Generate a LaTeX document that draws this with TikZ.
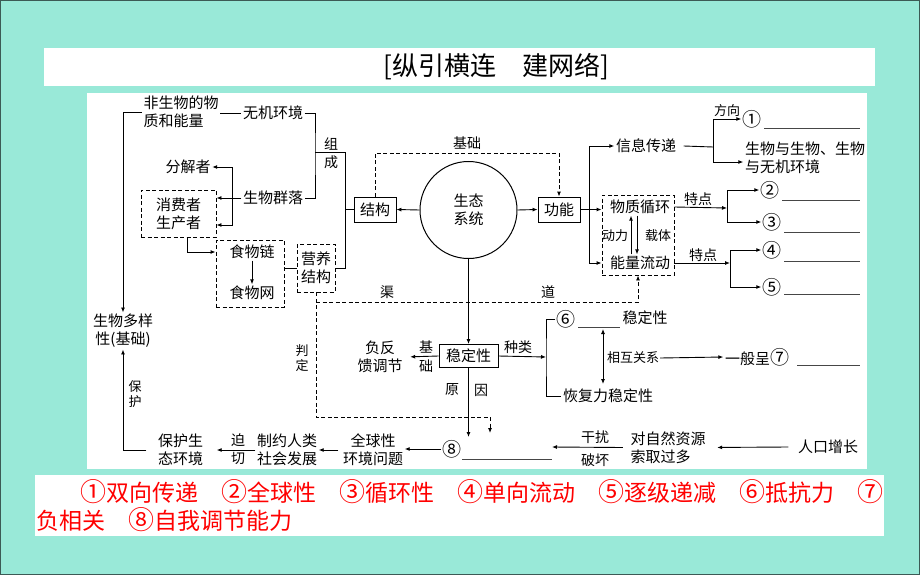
\documentclass[tikz,border=0pt]{standalone}
\usepackage{fontspec}
\setmainfont{Noto Sans CJK SC}
\usetikzlibrary{arrows.meta,calc}
\definecolor{tealbg}{RGB}{153,233,216}
\definecolor{edgec}{RGB}{60,90,85}
\definecolor{ulgray}{RGB}{70,70,70}
\newcommand{\cbig}[1]{{\fontsize{19}{18}\selectfont #1}}
\newcommand{\cred}[1]{{\fontsize{26}{26}\selectfont #1}}
\begin{document}
\begin{tikzpicture}[x=1pt,y=-1pt,
  t/.style={inner sep=1.5pt, font=\fontsize{15}{18}\selectfont, align=center},
  ts/.style={inner sep=1pt, font=\fontsize{13}{15}\selectfont},
  tl/.style={inner sep=1pt, font=\fontsize{14}{16}\selectfont},
  cn/.style={inner sep=1pt, font=\fontsize{19}{18}\selectfont},
  sbox/.style={draw, line width=0.9pt, inner sep=3pt, font=\fontsize{15}{18}\selectfont},
  dbox/.style={draw, line width=0.9pt, dash pattern=on 4pt off 2.5pt},
  ln/.style={line width=0.9pt},
  arr/.style={ln, -{Latex[length=5pt,width=4pt]}},
  dln/.style={ln, dash pattern=on 4pt off 2.5pt},
  darr/.style={dln, -{Latex[length=5pt,width=4pt]}},
  ul/.style={line width=0.8pt, ulgray}
]
\useasboundingbox (0,0) rectangle (920,575);
\fill[tealbg] (0,0) rectangle (920,575);
\draw[line width=1.2pt, edgec] (0.6,0.6) rectangle (919.4,574.4);
\fill[white] (44,48) rectangle (875,86);
\fill[white] (87,93) rectangle (867,469);
\fill[white] (35,475) rectangle (884,536);

% title
\node[inner sep=0, font=\fontsize{26}{28}\selectfont] (title) at (496,67) {[纵引横连　建网络]};

% answers
\node[anchor=west, red, inner sep=0, font=\fontsize{23}{26}\selectfont] (ans1) at (80,492) {\cred{①}双向传递　\cred{②}全球性　\cred{③}循环性　\cred{④}单向流动　\cred{⑤}逐级递减　\cred{⑥}抵抗力　\cred{⑦}};
\node[anchor=west, red, inner sep=0, font=\fontsize{23}{26}\selectfont] (ans2) at (36,520) {负相关　\cred{⑧}自我调节能力};

% ---------- nodes ----------
\node[t, align=left] (fsw) at (181,112) {非生物的物\\质和能量};
\node[t] (wjhj) at (273,113) {无机环境};
\node[t] (swdy) at (123,331) {生物多样\\性(基础)};
\node[t] (fjz) at (188,167) {分解者};
\node[t, dbox, minimum width=75pt, minimum height=47pt] (xfz) at (178.5,213.5) {消费者\\生产者};
\node[t] (swql) at (273,198) {生物群落};
\node[dbox, minimum width=68pt, minimum height=67pt] (swb) at (250,273.5) {};
\node[t] (swl) at (252,252) {食物链};
\node[t] (swn) at (252,293) {食物网};
\node[t, dbox, minimum width=38pt, minimum height=48pt] (yyjg) at (316,268) {营养\\结构};
\node[tl] (zu) at (331,144) {组};
\node[tl] (cheng) at (331,162) {成};

\node[sbox, minimum width=42pt, minimum height=25pt] (jg) at (375,209.5) {结构};
\node[draw, circle, line width=1pt, minimum size=97pt, t] (st) at (468.5,210) {生态\\系统};
\node[sbox, minimum width=42pt, minimum height=25pt] (gn) at (559,209.5) {功能};
\node[tl] (jc) at (467,143) {基础};

\node[t] (xxcd) at (646,146) {信息传递};
\node[dbox, minimum width=72pt, minimum height=80pt] (wzb) at (638,235) {};
\node[t] (wzxh) at (640,207) {物质循环};
\node[t] (nlld) at (640,263) {能量流动};
\node[ts] (dl) at (615,236) {动力};
\node[ts] (zt) at (658,236) {载体};
\node[ts] (fx) at (727,111) {方向};
\node[cn] (c1) at (752,119) {①};
\node[t, align=left] (swys) at (805,158) {生物与生物、生物\\与无机环境};
\node[tl] (td1l) at (698,199) {特点};
\node[cn] (c2) at (770,190) {②};
\node[cn] (c3) at (772,222) {③};
\node[tl] (td2l) at (703,255) {特点};
\node[cn] (c4) at (772,250) {④};
\node[cn] (c5) at (772,287) {⑤};

\node[tl] (qu) at (387,292) {渠};
\node[tl] (dao) at (548,292) {道};
\node[ts] (pan) at (302,351) {判};
\node[ts] (ding) at (302,366) {定};

\node[sbox, minimum width=59pt, minimum height=23pt] (wdx) at (468.5,356) {稳定性};
\node[t] (fk) at (380,357) {负反\\馈调节};
\node[tl] (ji) at (426,347) {基};
\node[tl] (chu) at (426,366) {础};
\node[tl] (zl) at (518,347) {种类};
\node[cn] (c6) at (566,319) {⑥};
\node[t] (hfl) at (608,396) {恢复力稳定性};
\node[t] (kdx) at (645,318) {稳定性};
\node[ts] (xh) at (633,358) {相互关系};
\node[t] (yb) at (757,357) {一般呈\cbig{⑦}};
\node[tl] (yuan) at (452,390) {原};
\node[tl] (yin) at (481,390) {因};

\node[t] (rk) at (828,447) {人口增长};
\node[t, align=left] (dz) at (668,447.5) {对自然资源\\索取过多};
\node[tl] (gr1) at (595,437) {干扰};
\node[tl] (ph) at (595,460) {破坏};
\node[cn] (c8) at (452,449) {⑧};
\node[t] (qq) at (373,450) {全球性\\环境问题};
\node[t] (zy) at (287,450) {制约人类\\社会发展};
\node[t] (bh) at (180.5,450) {保护生\\态环境};
\node[tl] (po) at (238,440) {迫};
\node[tl] (qie) at (238,458) {切};
\node[ts] (bao) at (135,387) {保};
\node[ts] (hu) at (135,402) {护};

% ---------- coordinates ----------
\coordinate (b1) at (232,198);
\coordinate (b2) at (232,225);
\coordinate (zA) at (315,152);
\coordinate (zB) at (345,152);
\coordinate (jcy) at (0,153);
\coordinate (gr) at (589,209.5);
\coordinate (xr) at (713,147);
\coordinate (td1) at (727,208);
\coordinate (td2) at (730,263);
\coordinate (qd) at (0,302);
\coordinate (pd) at (0,417);
\coordinate (pdR) at (490,417);
\coordinate (pdE) at (490,433);
\coordinate (k1) at (546,357);
\coordinate (dA) at (603,329);
\coordinate (dB) at (603,384);
\coordinate (c8e) at (552,447);
\coordinate (yy) at (0,437);

% ---------- connectors ----------
\draw[ln] (fsw.east |- wjhj) -- (wjhj.west);
\draw[arr] (fsw.west) -| (swdy.north);
\draw[ln] (swql.west) -- (b1);
\draw[arr] (b1) |- (fjz.east);
\draw[arr] (b1) -- (b1 -| xfz.east);
\draw[arr] (b1) -- (b2) -- (b2 -| xfz.east);
\draw[arr] ([xshift=8.5pt]xfz.south) |- (swb.west |- swl);
\draw[arr] (swl) -- (swn);
\draw[line width=0.6pt] (swb.east |- yyjg) -- (yyjg.west);
\draw[ln] (wjhj.east) -| (zA) |- (swql.east);
\draw[ln] (zA) -- (zB) |- (yyjg.east);
\draw[ln] (zB |- jg) -- (jg.west);

\draw[arr] (st.west) -- (jg.east);
\draw[arr] (st.east) -- (gn.west);
\draw[darr] (jg.north) -- (jg.north |- jcy) -| (gn.north);

\draw[ln] (gn.east) -- (gr);
\draw[arr] (gr) |- (xxcd.west);
\draw[arr] (gr) -- (gr -| wzb.west);
\draw[arr] (gr) |- (nlld -| wzb.west);
\draw[arr] ([xshift=-9pt]nlld.north) -- ([xshift=-9pt]wzxh.south);
\draw[arr] ([xshift=-3pt]wzxh.south) -- ([xshift=-3pt]nlld.north);

\draw[ln] ([xshift=6pt]xxcd.east) -- (xr);
\draw[arr] (xr) |- (c1.west);
\draw[arr] (xr) |- ([yshift=-4pt]swys.west);
\draw[arr] (wzb.east |- wzxh) -- (td1);
\draw[arr] (td1) |- (c2.west);
\draw[arr] (td1) |- (c3.west);
\draw[arr] (wzb.east |- nlld) -- (td2);
\draw[arr] (td2) |- (c4.west);
\draw[arr] (td2) |- (c5.west);

\draw[darr] (yyjg.south |- qd) -| (wzb.south);
\draw[dln] (yyjg.south) -- (yyjg.south |- pd) -- (pdR);
\draw[darr] (pdR) -- (pdE);

\draw[arr] (st.south) -- (wdx.north);
\draw[arr, shorten >=6pt] (wdx.west) -- (fk.east);
\draw[arr] (wdx.east) -- (k1);
\draw[ln] (c6.west) -| (k1) |- (hfl.west);
\draw[ln, {Latex[length=5pt,width=4pt]}-{Latex[length=5pt,width=4pt]}] (dA) -- (dB);
\draw[arr] (xh.east) -- (yb.west);
\draw[arr] (wdx.south) -- (wdx.south |- yy);

\draw[arr, shorten >=10pt] ([xshift=-8pt]rk.west) -- (dz.east);
\draw[arr] ([xshift=-6pt]dz.west) -- (c8e);
\draw[arr] (c8.west) -- (qq.east |- c8);
\draw[arr] ([xshift=-3pt]qq.west) -- (zy.east);
\draw[arr, shorten >=12pt] (zy.west) -- (bh.east);
\draw[arr] ([xshift=-10pt]bh.west) -| (swdy.south);

% ---------- blanks ----------
\draw[ul] (764,128) -- (860,128);
\draw[ul] (782,200) -- (860,200);
\draw[ul] (784,232) -- (860,232);
\draw[ul] (784,261) -- (860,261);
\draw[ul] (784,294) -- (860,294);
\draw[ul] (578,327) -- (620,327);
\draw[ul] (797,365) -- (860,365);
\draw[ul] (462,459) -- (552,459);
\end{tikzpicture}
\end{document}
